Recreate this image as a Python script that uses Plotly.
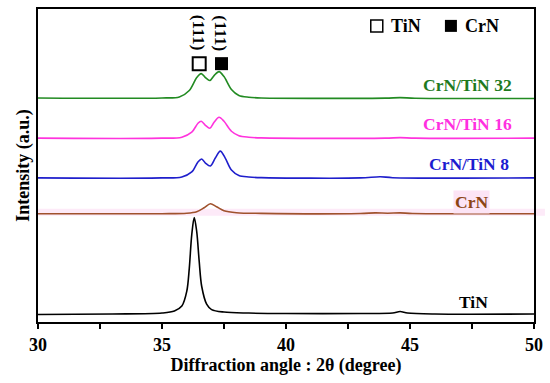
import plotly.graph_objects as go

# --- data (relative intensities, a.u.) ---
tin_x = [30, 33, 35, 35.5, 35.8, 36.0, 36.1, 36.2, 36.3, 36.4, 36.5, 36.6, 36.8, 37.0, 37.5, 38.5, 40, 43, 44.3, 44.6, 44.9, 46, 50]
tin_y = [0.5, 1, 2, 4, 9, 24, 47, 81, 98, 84, 54, 29, 11, 5.5, 3, 2, 1.5, 1.5, 2, 3.5, 2, 1, 1]

crn_x = [30, 35, 36.0, 36.4, 36.7, 36.95, 37.2, 37.5, 38.0, 39, 43, 43.6, 44.1, 44.6, 45.1, 50]
crn_y = [0, 0, 0.5, 2, 6, 10, 7, 3, 1, 0.3, 0.2, 0.8, 0.5, 0.8, 0.2, 0]

s8_x = [30, 35, 35.8, 36.2, 36.45, 36.6, 36.75, 36.95, 37.15, 37.35, 37.55, 37.8, 38.1, 38.5, 39, 43, 43.8, 44.3, 50]
s8_y = [0, 0, 1, 6, 16, 19, 15, 12, 20, 27, 20, 8, 2.5, 1, 0.3, 0, 1.2, 0.2, 0]

s16_x = [30, 35, 35.8, 36.2, 36.45, 36.58, 36.75, 36.93, 37.1, 37.3, 37.5, 37.8, 38.1, 38.5, 39, 44, 44.6, 45.2, 50]
s16_y = [0, 0, 1, 6, 15, 17, 13, 10, 16, 21, 17, 7, 2.5, 1, 0.3, 0, 0.6, 0, 0]

s32_x = [30, 35, 35.7, 36.1, 36.4, 36.58, 36.75, 36.93, 37.1, 37.3, 37.5, 37.8, 38.1, 38.5, 39, 44, 44.6, 45.2, 50]
s32_y = [0.5, 0.5, 1.5, 8, 21, 25, 21, 18, 23, 27, 22, 9, 3, 1.2, 0.5, 0.3, 0.8, 0.2, 0]

series_names = ["TiN", "CrN", "CrN/TiN 8", "CrN/TiN 16", "CrN/TiN 32"]
series_x = [tin_x, crn_x, s8_x, s16_x, s32_x]
series_y = [tin_y, crn_y, s8_y, s16_y, s32_y]
offsets = [7, 109, 145, 185, 225]
colors = ["#000000", "#a0522d", "#1f1fcc", "#ff33dd", "#228b22"]
label_colors = ["#000000", "#8b4513", "#1c1cd0", "#ff30e0", "#1e7a1e"]
label_x = [47.58, 47.47, 47.37, 47.33, 47.33]
label_y = [20, 121, 159, 199, 239]

peak_pos = [36.5, 37.4]
peak_label = ["(111)", "(111)"]

x_ticks = [30, 35, 40, 45, 50]

font_family = "Liberation Serif"

fig = go.Figure()

# faint pink band (scan artifact) behind the CrN trace
fig.add_shape(type="rect", xref="paper", yref="y", x0=-0.003, x1=1.022, y0=107, y1=114,
              fillcolor="#fdeaf8", line_width=0, layer="below")

for xs, ys, off, c, nm in zip(series_x, series_y, offsets, colors, series_names):
    fig.add_trace(go.Scatter(x=xs, y=[v + off for v in ys], mode="lines", name=nm,
                             line=dict(color=c, width=1.6, shape="spline", smoothing=0.9),
                             showlegend=False, hoverinfo="skip"))

for nm, lx, ly, lc in zip(series_names, label_x, label_y, label_colors):
    fig.add_annotation(x=lx, y=ly, text="<b>%s</b>" % nm, showarrow=False,
                       font=dict(family=font_family, size=17.5, color=lc),
                       bgcolor="#fce4f5" if nm == "CrN" else None)

# peak markers
fig.add_trace(go.Scatter(x=[peak_pos[0]], y=[260], mode="markers", showlegend=False,
                         marker=dict(symbol="square-open", size=13, color="black", line=dict(width=2))))
fig.add_trace(go.Scatter(x=[peak_pos[1]], y=[260], mode="markers", showlegend=False,
                         marker=dict(symbol="square", size=13, color="black")))
for px, pl in zip(peak_pos, peak_label):
    fig.add_annotation(x=px, y=291, text="<b>%s</b>" % pl, textangle=90, showarrow=False,
                       font=dict(family=font_family, size=17.5, color="black"))

# legend (phase symbols)
fig.add_trace(go.Scatter(x=[43.66], y=[298], mode="markers", showlegend=False,
                         marker=dict(symbol="square-open", size=12, color="black", line=dict(width=1.5))))
fig.add_trace(go.Scatter(x=[46.65], y=[298], mode="markers", showlegend=False,
                         marker=dict(symbol="square", size=12, color="black")))
fig.add_annotation(x=44.83, y=298, text="<b>TiN</b>", showarrow=False,
                   font=dict(family=font_family, size=18, color="black"))
fig.add_annotation(x=47.92, y=298, text="<b>CrN</b>", showarrow=False,
                   font=dict(family=font_family, size=18, color="black"))

fig.update_layout(
    width=550, height=383,
    margin=dict(l=38, r=16, t=7, b=61),
    paper_bgcolor="white", plot_bgcolor="white",
    font=dict(family=font_family, color="black"),
    xaxis=dict(range=[30, 50], tickvals=x_ticks, ticktext=["<b>%d</b>" % t for t in x_ticks],
               tickfont=dict(family=font_family, size=18, color="black"),
               ticks="outside", ticklen=5, tickwidth=1.5, tickcolor="black",
               ticklabelstandoff=0,
               minor=dict(tickvals=[32.5, 37.5, 42.5, 47.5], ticks="outside", ticklen=5,
                          tickwidth=1.5, tickcolor="black"),
               showline=True, linecolor="black", linewidth=2, mirror=True,
               showgrid=False, zeroline=False,
               title=dict(text="<b>Diffraction angle : 2θ (degree)</b>", standoff=3,
                          font=dict(family=font_family, size=18, color="black"))),
    yaxis=dict(range=[0, 315], showticklabels=False, ticks="",
               showline=True, linecolor="black", linewidth=2, mirror=True,
               showgrid=False, zeroline=False,
               title=dict(text="<b>Intensity (a.u.)</b>", standoff=2,
                          font=dict(family=font_family, size=18, color="black"))),
)

fig.write_html("out.html", config={"displayModeBar": False},
               post_script="document.body.style.margin='0';")
